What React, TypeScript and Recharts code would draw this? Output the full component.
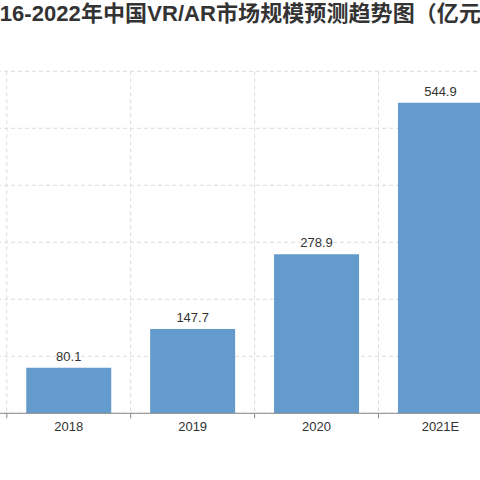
import { BarChart, Bar, XAxis, YAxis, CartesianGrid, LabelList } from "recharts";

// the picture is a crop of a wider chart: only 2018–2021E are in frame
const years = ["2016", "2017", "2018", "2019", "2020", "2021E", "2022E"];
const marketSize: (number | null)[] = [null, null, 80.1, 147.7, 278.9, 544.9, null];
const yTicks = [0, 100, 200, 300, 400, 500, 600];
const title = "2016-2022年中国VR/AR市场规模预测趋势图（亿元）";

const data = years.map((year, i) => ({ year, value: marketSize[i] }));

const FONT = "'Liberation Sans', Arial, 'Noto Sans CJK SC', sans-serif";

function YearTick(props: any) {
  const { x, y, payload } = props;
  const half = payload?.offset ?? 0;
  return (
    <g>
      <line x1={x - half} y1={y - 8} x2={x - half} y2={y - 3} stroke="#888" />
      <text x={x} y={y} dy="0.71em" textAnchor="middle" fill="#333" fontSize={13}>
        {payload.value}
      </text>
    </g>
  );
}

export default function App() {
  return (
    <div
      style={{
        position: "fixed",
        left: 0,
        top: 0,
        width: 480,
        height: 480,
        overflow: "hidden",
        background: "#fff",
        fontFamily: FONT,
      }}
    >
      <svg width={480} height={30} style={{ position: "absolute", left: 0, top: 0 }}>
        <text
          x={-25}
          y={20.7}
          textLength={528}
          lengthAdjust="spacing"
          fontSize={22}
          fontWeight="bold"
          fill="#333"
          fontFamily={FONT}
        >
          {title}
        </text>
      </svg>
      <div style={{ position: "absolute", left: -281.25, top: 0 }}>
        <BarChart
          width={907.3}
          height={480}
          data={data}
          margin={{ top: 71.3, right: 0, bottom: 36.7, left: 0 }}
          barCategoryGap="15.7%"
          style={{ fontFamily: FONT }}
        >
          <CartesianGrid
            stroke="#dcdcdc"
            strokeDasharray="4 3"
            verticalCoordinatesGenerator={({ offset }: any) =>
              years.map((_, i) => offset.left + (i * offset.width) / years.length).concat(offset.left + offset.width)
            }
          />
          <XAxis
            dataKey="year"
            interval={0}
            height={30}
            tickSize={6}
            tickMargin={2}
            tickLine={false}
            axisLine={{ stroke: "#888" }}
            tick={<YearTick />}
          />
          <YAxis width={40} domain={[0, 600]} ticks={yTicks} tick={{ fontSize: 12, fill: "#333" }} />
          <Bar dataKey="value" fill="#649bcd" isAnimationActive={false}>
            <LabelList
              dataKey="value"
              position="top"
              offset={7}
              fill="#333"
              fontSize={13}
              formatter={(v: any) => (v == null ? "" : v)}
            />
          </Bar>
        </BarChart>
      </div>
    </div>
  );
}
